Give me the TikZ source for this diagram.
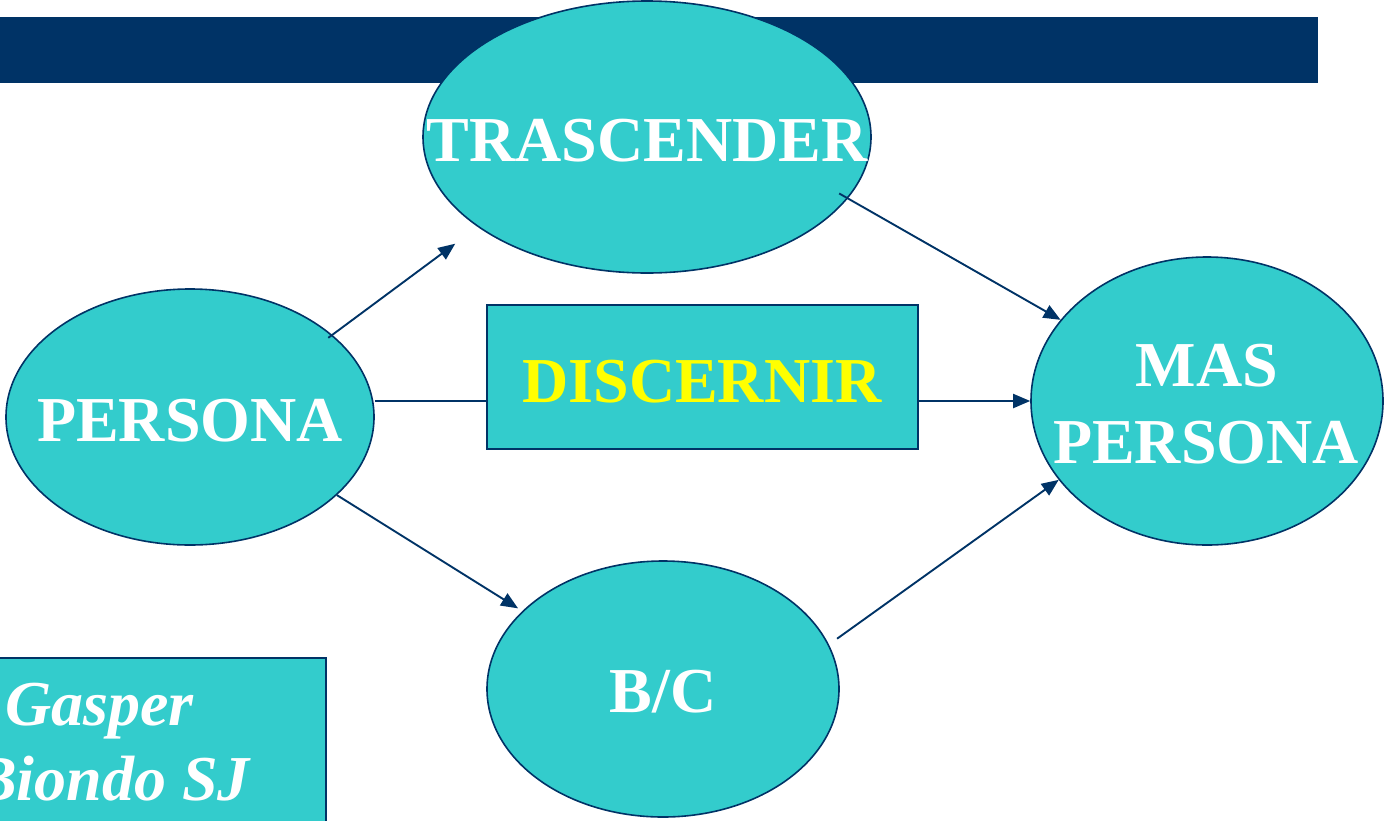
\documentclass[tikz,border=0pt]{standalone}
\usepackage{fontspec}
\setmainfont{Liberation Serif}
\usetikzlibrary{shapes.geometric,arrows.meta,calc}
\definecolor{myteal}{HTML}{33CCCC}
\definecolor{mynavy}{HTML}{003366}
\definecolor{myyellow}{HTML}{FFFF00}
\begin{document}
\begin{tikzpicture}[x=1pt,y=-1pt,
  shapeline/.style={draw=mynavy,line width=1.6pt,fill=myteal},
  ell/.style={shapeline,ellipse,inner sep=0pt},
  boxshape/.style={shapeline,rectangle,inner sep=0pt},
  lbl/.style={text=white,font=\fontsize{64}{75}\selectfont\bfseries,inner sep=0pt,anchor=base},
  ilbl/.style={text=white,font=\fontsize{64}{75}\selectfont\bfseries\itshape,inner sep=0pt,anchor=base west},
  conn/.style={draw=mynavy,line width=1.9pt},
  arr/.style={conn,-{Triangle[length=17pt,width=14pt]}}]
\useasboundingbox (0,0) rectangle (1384,820);
\clip (0,0) rectangle (1384,820);
% top bar
\node[fill=mynavy,minimum width=1318pt,minimum height=66pt,inner sep=0pt,anchor=north west] (bar) at (0,17) {};
% shapes
\node[ell,minimum width=448pt,minimum height=272pt] (trasc) at (647,137) {};
\node[ell,minimum width=368pt,minimum height=256pt] (persona) at (190,417) {};
\node[ell,minimum width=352pt,minimum height=288pt] (mas) at (1207,401) {};
\node[ell,minimum width=352pt,minimum height=256pt] (bc) at (663,689) {};
\node[boxshape,minimum width=431pt,minimum height=144pt] (disc) at (702.5,377) {};
\node[boxshape,minimum width=400pt,minimum height=200pt,anchor=north east] (author) at (327,657) {};
% labels
\node[lbl] (trasct) at (647,161) {TRASCENDER};
\node[lbl] (personat) at (190,441) {PERSONA};
\node[lbl,text=myyellow] (disct) at (702,402) {DISCERNIR};
\node[lbl] (mast) at (1207,386) {MAS};
\node[lbl] (mast2) at (1206,463) {PERSONA};
\node[lbl] (bct) at (663,712) {B/C};
\node[ilbl] (gasper) at (5,725) {Gasper};
\node[ilbl] (biondo) at (-26,800) {Biondo SJ};
% connectors
\draw[arr,shorten >=28pt,shorten <=-5pt] (persona.30.3) -- (trasc.208.3);
\draw[conn] (persona.east |- mas.center) -- (disc.west |- mas.center);
\draw[arr] (disc.east |- mas.center) -- (mas.west);
\draw[arr,shorten <=-10pt] (trasc.343.4) -- (mas.151.3);
\draw[arr,shorten >=5pt] (persona.332.2) -- (bc.151.1);
\draw[arr,shorten <=10pt] (bc.15.3) -- (mas.208.9);
\end{tikzpicture}
\end{document}
